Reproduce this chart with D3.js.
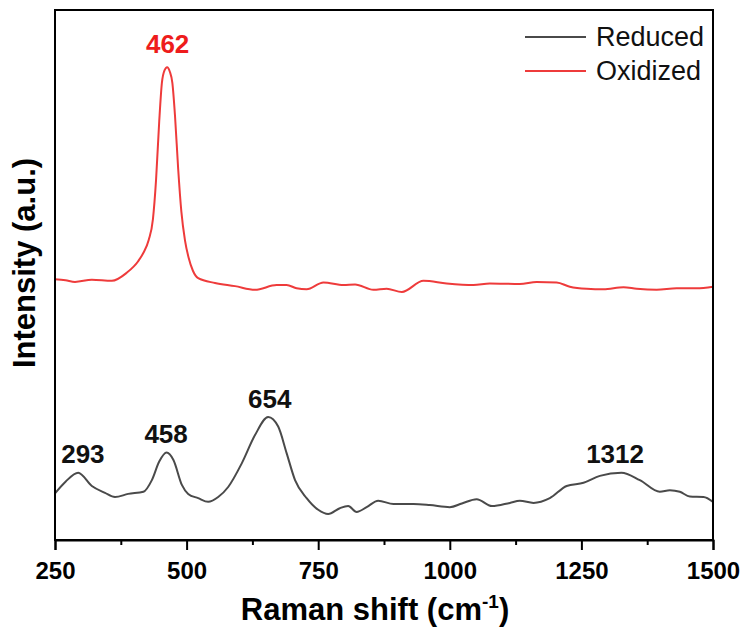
<!DOCTYPE html>
<html>
<head>
<meta charset="utf-8">
<script src="https://cdn.jsdelivr.net/npm/d3@7"></script>
<style>
  body { margin: 0; background: #fff; }
  text { font-family: "Liberation Sans", Arial, sans-serif; }
</style>
</head>
<body>
<div id="chart"></div>
<script>
// Raman shift (cm-1) and intensity (a.u.)
const reducedShift = [250, 270, 294, 320, 345, 364, 389, 418, 434, 448, 462, 475, 491, 503, 522, 541, 560, 579, 605, 630, 655, 674, 690, 706, 728, 750, 769, 791, 807, 823, 842, 864, 893, 931, 962, 1000, 1023, 1051, 1080, 1114, 1133, 1159, 1190, 1222, 1254, 1285, 1326, 1361, 1399, 1418, 1437, 1456, 1482, 1500];
const reducedInt = [8.8, 11.0, 12.7, 10.2, 8.9, 8.1, 8.7, 9.1, 11.3, 14.8, 16.5, 15.1, 10.4, 8.7, 7.9, 7.2, 8.1, 10.0, 14.5, 19.8, 23.2, 21.4, 16.4, 11.3, 7.9, 5.7, 4.9, 6.0, 6.4, 5.3, 6.2, 7.4, 6.8, 6.8, 6.6, 6.2, 6.9, 7.7, 6.4, 7.0, 7.4, 7.0, 7.9, 10.2, 10.8, 12.1, 12.7, 11.3, 9.1, 9.4, 9.1, 8.2, 8.1, 7.2];

const oxidizedShift = [250, 270, 288, 320, 358, 386, 408, 418, 428, 436, 442, 448, 453, 458, 463, 468, 473, 478, 484, 490, 497, 504, 512, 522, 554, 592, 630, 671, 690, 709, 728, 760, 798, 820, 855, 880, 909, 950, 994, 1045, 1076, 1133, 1165, 1203, 1228, 1260, 1292, 1330, 1355, 1393, 1431, 1469, 1500];
const oxidizedInt = [49.2, 49.0, 48.7, 49.1, 48.9, 50.4, 52.6, 54.2, 56.6, 60.5, 68.0, 79.0, 86.2, 88.6, 89.2, 88.4, 86.2, 80.0, 70.0, 62.0, 56.5, 53.2, 50.8, 49.4, 48.5, 47.9, 47.2, 48.1, 48.1, 47.5, 47.3, 48.6, 48.1, 48.2, 47.2, 47.4, 46.8, 48.9, 48.4, 48.1, 48.4, 48.3, 48.7, 48.6, 47.8, 47.4, 47.3, 47.7, 47.4, 47.2, 47.5, 47.5, 47.8];

// peak annotations: text, shift, intensity of label baseline
const peakText = ["293", "458", "654", "1312", "462"];
const peakShift = [303, 461, 658, 1314, 464];
const peakInt = [14.5, 18.3, 24.9, 14.6, 91.9];
const peakSeries = ["Reduced", "Reduced", "Reduced", "Reduced", "Oxidized"];

const seriesNames = ["Reduced", "Oxidized"];
const seriesColors = ["#4a4a4a", "#ee3b3b"];

const xTicks = [250, 500, 750, 1000, 1250, 1500];
const xMinorTicks = [375, 625, 875, 1125, 1375];

// set the dimensions and margins of the graph
const margin = { top: 10, right: 33, bottom: 96, left: 55 },
    width = 746 - margin.left - margin.right,
    height = 636 - margin.top - margin.bottom;

const svg = d3.select("#chart")
    .append("svg")
    .attr("width", width + margin.left + margin.right)
    .attr("height", height + margin.top + margin.bottom)
    .append("g")
    .attr("transform", `translate(${margin.left},${margin.top})`);

const x = d3.scaleLinear().domain([250, 1500]).range([0, width]);
const y = d3.scaleLinear().domain([0, 100]).range([height, 0]);

const color = d3.scaleOrdinal().domain(seriesNames).range(seriesColors);

// curves
const line = d3.line()
    .x(d => x(d[0]))
    .y(d => y(d[1]))
    .curve(d3.curveMonotoneX);

const series = [
    { name: "Reduced", values: d3.zip(reducedShift, reducedInt) },
    { name: "Oxidized", values: d3.zip(oxidizedShift, oxidizedInt) }
];

svg.selectAll(".series")
    .data(series)
    .join("path")
    .attr("class", "series")
    .attr("fill", "none")
    .attr("stroke", d => color(d.name))
    .attr("stroke-width", 2)
    .attr("stroke-linejoin", "round")
    .attr("d", d => line(d.values));

// peak labels
svg.selectAll(".peak")
    .data(peakText.map((t, i) => ({ t, x: peakShift[i], y: peakInt[i], s: peakSeries[i] })))
    .join("text")
    .attr("class", "peak")
    .attr("x", d => x(d.x))
    .attr("y", d => y(d.y))
    .attr("text-anchor", "middle")
    .attr("fill", d => d.s === "Oxidized" ? "#ee1c1c" : "#111")
    .style("font-size", "26px")
    .style("font-weight", "bold")
    .text(d => d.t);

// frame
svg.append("rect")
    .attr("width", width)
    .attr("height", height)
    .attr("fill", "none")
    .attr("stroke", "#000")
    .attr("stroke-width", 2);

// X axis
const xAxis = svg.append("g")
    .attr("transform", `translate(0, ${height})`)
    .call(d3.axisBottom(x).tickValues(xTicks).tickSize(10).tickPadding(12).tickFormat(d3.format("d")));
xAxis.select(".domain").attr("stroke-width", 2);
xAxis.selectAll(".tick line").attr("stroke-width", 2);
xAxis.selectAll("text")
    .attr("fill", "#000")
    .style("font-size", "24px")
    .style("font-weight", "bold")
    .style("font-family", "'Liberation Sans', Arial, sans-serif");

const xMinor = svg.append("g")
    .attr("transform", `translate(0, ${height})`)
    .call(d3.axisBottom(x).tickValues(xMinorTicks).tickSize(5).tickFormat(""));
xMinor.select(".domain").remove();
xMinor.selectAll(".tick line").attr("stroke-width", 2);

// axis titles
const xTitle = svg.append("text")
    .attr("x", 320)
    .attr("y", height + 80)
    .attr("text-anchor", "middle")
    .style("font-size", "31px")
    .style("font-weight", "bold");
xTitle.append("tspan").text("Raman shift (cm");
xTitle.append("tspan").attr("dy", -12).style("font-size", "19px").text("-1");
xTitle.append("tspan").attr("dy", 12).text(")");

svg.append("text")
    .attr("transform", `translate(${-margin.left + 35}, ${height / 2 - 12}) rotate(-90)`)
    .attr("text-anchor", "middle")
    .style("font-size", "31px")
    .style("font-weight", "bold")
    .text("Intensity (a.u.)");

// legend
const legend = svg.selectAll(".legend")
    .data(seriesNames)
    .join("g")
    .attr("class", "legend")
    .attr("transform", (d, i) => `translate(${width - 188}, ${27 + i * 34})`);
legend.append("line")
    .attr("x1", 0).attr("x2", 61)
    .attr("stroke", d => color(d))
    .attr("stroke-width", 2);
legend.append("text")
    .attr("x", 71)
    .attr("dy", "0.35em")
    .style("font-size", "27px")
    .attr("fill", "#111")
    .text(d => d);
</script>
</body>
</html>
